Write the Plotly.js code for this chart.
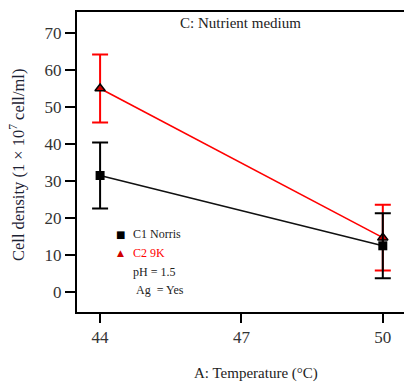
<!DOCTYPE html>
<html>
<head>
<meta charset="utf-8">
<script src="https://cdn.plot.ly/plotly-3.0.1.min.js"></script>
<style>html,body{margin:0;padding:0;background:#fff}#chart{width:404px;height:382px}</style>
</head>
<body>
<div id="chart"></div>
<script>
const temperature = [44, 50];
const c1Norris = [31.5, 12.5];
const c1Err = [8.9, 8.8];
const c2K9 = [55.0, 14.7];
const c2Err = [9.2, 8.9];
const xTicks = [44, 47, 50];
const yTicks = [0, 10, 20, 30, 40, 50, 60, 70];

const serif = "Liberation Serif";

const traces = [
  {
    x: temperature, y: c2K9, name: 'C2 9K', type: 'scatter', mode: 'lines+markers',
    line: {color: '#ff0000', width: 1.6},
    marker: {symbol: 'triangle-up', size: 9, color: '#d00000', line: {color: '#000', width: 1.5}},
    error_y: {type: 'data', array: c2Err, visible: true, color: '#ff0000', thickness: 2, width: 8},
    showlegend: false
  },
  {
    x: temperature, y: c1Norris, name: 'C1 Norris', type: 'scatter', mode: 'lines+markers',
    line: {color: '#111', width: 1.6},
    marker: {symbol: 'square', size: 9, color: '#000'},
    error_y: {type: 'data', array: c1Err, visible: true, color: '#000', thickness: 2, width: 8},
    showlegend: false
  }
];

function px(x){ return (x - 77) / 327; }
function py(y){ return (312 - y) / 300; }

const layout = {
  width: 404, height: 382,
  margin: {l: 77, r: 0, t: 12, b: 70},
  paper_bgcolor: '#fff', plot_bgcolor: '#fff',
  font: {family: serif, color: '#222'},
  title: {text: 'C: Nutrient medium', font: {family: serif, size: 15, color: '#222'},
          x: 0.5, xref: 'paper', y: 1 - 23/382, yref: 'container', yanchor: 'middle'},
  xaxis: {
    range: [43.51, 50.45], tickvals: xTicks, ticktext: xTicks.map(String),
    showgrid: false, zeroline: false, showline: true, linecolor: '#000', linewidth: 2,
    mirror: true, ticks: 'outside', ticklen: 9, tickwidth: 2, tickcolor: '#000',
    tickfont: {family: serif, size: 17, color: '#333'}
  },
  yaxis: {
    range: [-5.4, 75.7], tickvals: yTicks, ticktext: yTicks.map(String),
    showgrid: false, zeroline: false, showline: true, linecolor: '#000', linewidth: 2,
    mirror: false, ticks: 'outside', ticklen: 10, tickwidth: 2, tickcolor: '#000',
    tickfont: {family: serif, size: 17, color: '#333'}
  },
  annotations: [
    {text: 'A: Temperature (°C)', xref: 'paper', yref: 'paper', x: px(256), y: py(373),
     showarrow: false, xanchor: 'center', yanchor: 'middle', font: {family: serif, size: 15, color: '#222'}},
    {text: 'Cell density (1 × 10<sup>7</sup> cell/ml)', xref: 'paper', yref: 'paper', x: px(17), y: py(165),
     textangle: -90, showarrow: false, xanchor: 'center', yanchor: 'middle', font: {family: serif, size: 16.5, color: '#1c2233'}},
    {text: '■', xref: 'paper', yref: 'paper', x: px(120), y: py(234), showarrow: false,
     xanchor: 'center', yanchor: 'middle', font: {family: 'DejaVu Sans', size: 10, color: '#000'}},
    {text: 'C1 Norris', xref: 'paper', yref: 'paper', x: px(131), y: py(234), showarrow: false,
     xanchor: 'left', yanchor: 'middle', font: {family: serif, size: 12, color: '#222'}},
    {text: '▲', xref: 'paper', yref: 'paper', x: px(120), y: py(253), showarrow: false,
     xanchor: 'center', yanchor: 'middle', font: {family: 'DejaVu Sans', size: 9, color: '#d00000'}},
    {text: 'C2 9K', xref: 'paper', yref: 'paper', x: px(131), y: py(253), showarrow: false,
     xanchor: 'left', yanchor: 'middle', font: {family: serif, size: 12, color: '#ff0000'}},
    {text: 'pH = 1.5', xref: 'paper', yref: 'paper', x: px(131), y: py(272), showarrow: false,
     xanchor: 'left', yanchor: 'middle', font: {family: serif, size: 12, color: '#222'}},
    {text: 'Ag  = Yes', xref: 'paper', yref: 'paper', x: px(134), y: py(290), showarrow: false,
     xanchor: 'left', yanchor: 'middle', font: {family: serif, size: 12, color: '#222'}}
  ]
};

Plotly.newPlot('chart', traces, layout, {displayModeBar: false, staticPlot: true});
</script>
</body>
</html>
